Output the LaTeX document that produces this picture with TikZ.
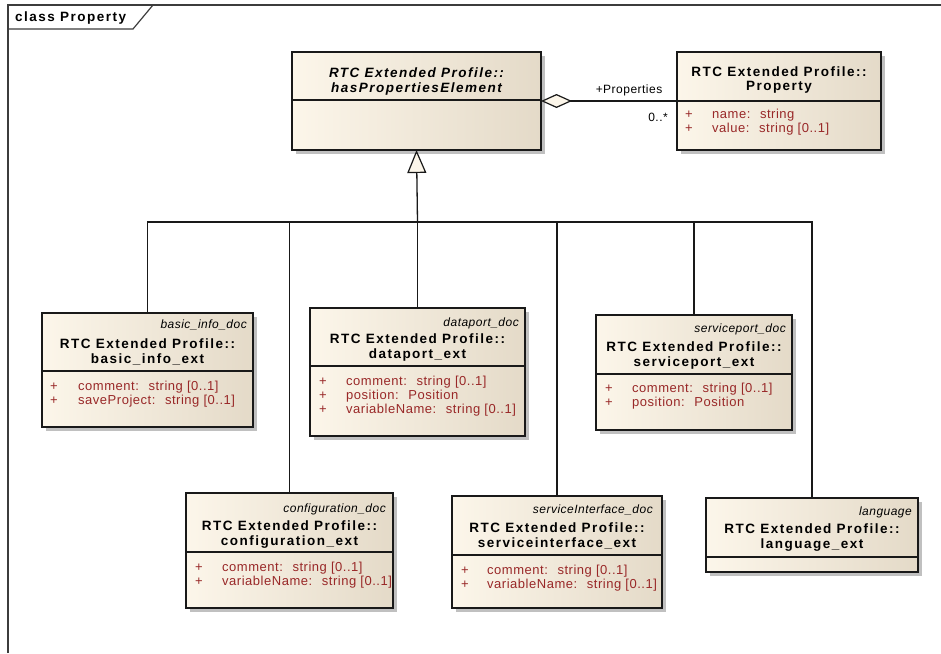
\documentclass[tikz,border=0pt]{standalone}
\usepackage{fontspec}
\setmainfont{Liberation Sans}
\newfontfamily\ttlfont[LetterSpace=11]{Liberation Sans}
\newfontfamily\attfont[LetterSpace=4]{Liberation Sans}
\usetikzlibrary{arrows.meta}
\definecolor{cream}{RGB}{252,246,234}
\definecolor{beige}{RGB}{228,218,200}
\definecolor{attred}{RGB}{153,40,40}
\definecolor{shadowc}{RGB}{192,192,192}
\definecolor{linec}{RGB}{25,25,25}
\definecolor{framec}{RGB}{60,60,60}
\tikzset{
  cls/.style={draw=linec, line width=1.3pt, left color=cream, right color=beige, inner sep=0pt, outer sep=0pt},
  divline/.style={draw=linec, line width=1.3pt},
  ttl/.style={font=\ttlfont\bfseries\fontsize{13.5}{13.8}\selectfont, align=center, inner sep=0pt, anchor=north},
  ttli/.style={font=\ttlfont\bfseries\itshape\fontsize{13.5}{13.8}\selectfont, align=center, inner sep=0pt, anchor=north},
  stereo/.style={font=\attfont\itshape\fontsize{12}{14}\selectfont, inner sep=0pt, anchor=base east},
  attr/.style={font=\attfont\fontsize{13}{14}\selectfont, text=attred, align=left, inner sep=0pt, anchor=north west},
  conn/.style={draw=linec, line width=1.3pt},
  lbl/.style={font=\attfont\fontsize{12}{14}\selectfont, inner sep=0pt},
}
\newcommand{\umlbox}[6]{%
  \fill[shadowc] ({#2+4},{#3+4}) rectangle ({#4+4},{#5+4});
  \node[cls, minimum width={(#4-#2)*1pt}, minimum height={(#5-#3)*1pt}] (#1) at ({(#2+#4)/2},{(#3+#5)/2}) {};
  \draw[divline] (#1.west |- 0,#6) -- (#1.east |- 0,#6);
}
\begin{document}
\begin{tikzpicture}[x=1pt,y=-1pt]
\useasboundingbox (0,0) rectangle (941,653);
\fill[white] (0,0) rectangle (941,653);
% frame
\draw[framec, line width=1.2pt] (8,653) -- (8,5) -- (941,5);
\draw[framec, line width=1.2pt] (8,29) -- (133,29) -- (153,5);
\node[font=\ttlfont\bfseries\fontsize{13.5}{14}\selectfont, inner sep=0pt, anchor=west] (ftitle) at (15,18) {class Property};

% boxes
\umlbox{hpe}{292}{52}{541}{150}{100}
\umlbox{prop}{677}{52}{881}{150}{101}
\umlbox{basic}{42}{313}{253}{427}{371}
\umlbox{data}{310}{308}{525}{436}{366}
\umlbox{sport}{596}{315}{792}{430}{374}
\umlbox{conf}{186}{493}{393}{608}{552}
\umlbox{sif}{452}{496}{662}{608}{555}
\umlbox{lang}{706}{498}{918}{572}{557}

% hasPropertiesElement
\node[ttli] (hpeT) at (416.5,68) {\strut RTC Extended Profile::\\hasPropertiesElement};
% Property
\node[ttl] (propT) at (779,67) {\strut RTC Extended Profile::\\Property};
\node[attr] (propP) at (685,108) {\strut +\\+};
\node[attr] (propA) at (712,108) {\strut name:~ string\\value:~ string [0..1]};
% basic_info_ext
\node[stereo] (basicS) at (247,328) {basic\_info\_doc};
\node[ttl] (basicT) at (147.5,339) {\strut RTC Extended Profile::\\basic\_info\_ext};
\node[attr] (basicP) at (50,380) {\strut +\\+};
\node[attr] (basicA) at (78,380) {\strut comment:~ string [0..1]\\saveProject:~ string [0..1]};
% dataport_ext
\node[stereo] (dataS) at (519,326) {dataport\_doc};
\node[ttl] (dataT) at (417.5,334) {\strut RTC Extended Profile::\\dataport\_ext};
\node[attr] (dataP) at (319,375) {\strut +\\+\\+};
\node[attr] (dataA) at (346,375) {\strut comment:~ string [0..1]\\position:~ Position\\variableName:~ string [0..1]};
% serviceport_ext
\node[stereo] (sportS) at (786,332) {serviceport\_doc};
\node[ttl] (sportT) at (694,342) {\strut RTC Extended Profile::\\serviceport\_ext};
\node[attr] (sportP) at (605,382) {\strut +\\+};
\node[attr] (sportA) at (632,382) {\strut comment:~ string [0..1]\\position:~ Position};
% configuration_ext
\node[stereo] (confS) at (386,512) {configuration\_doc};
\node[ttl] (confT) at (289.5,521) {\strut RTC Extended Profile::\\configuration\_ext};
\node[attr] (confP) at (195,561) {\strut +\\+};
\node[attr] (confA) at (222,561) {\strut comment:~ string [0..1]\\variableName:~ string [0..1]};
% serviceinterface_ext
\node[stereo] (sifS) at (653,513) {serviceInterface\_doc};
\node[ttl] (sifT) at (557,523) {\strut RTC Extended Profile::\\serviceinterface\_ext};
\node[attr] (sifP) at (461,564) {\strut +\\+};
\node[attr] (sifA) at (487,564) {\strut comment:~ string [0..1]\\variableName:~ string [0..1]};
% language_ext
\node[stereo] (langS) at (912,515) {language};
\node[ttl] (langT) at (812,524) {\strut RTC Extended Profile::\\language\_ext};

% aggregation
\draw[conn, {Diamond[fill=cream, length=31pt, width=14pt, line width=1.2pt]}-] (hpe.east) -- (prop.west);
\node[lbl] (roleL) at (629,90) {+Properties};
\node[lbl, anchor=east] (multL) at (668,117) {0..*};

% generalizations
\coordinate (bus) at (417.5,222);
\foreach \c in {basic,conf,data,sif,sport,lang}
  \draw[conn] (\c.north) |- (bus);
\draw[conn, -{Triangle[fill=cream, length=23pt, width=19pt, line width=1.2pt]}] (bus) -- (hpe.south);
\end{tikzpicture}
\end{document}
